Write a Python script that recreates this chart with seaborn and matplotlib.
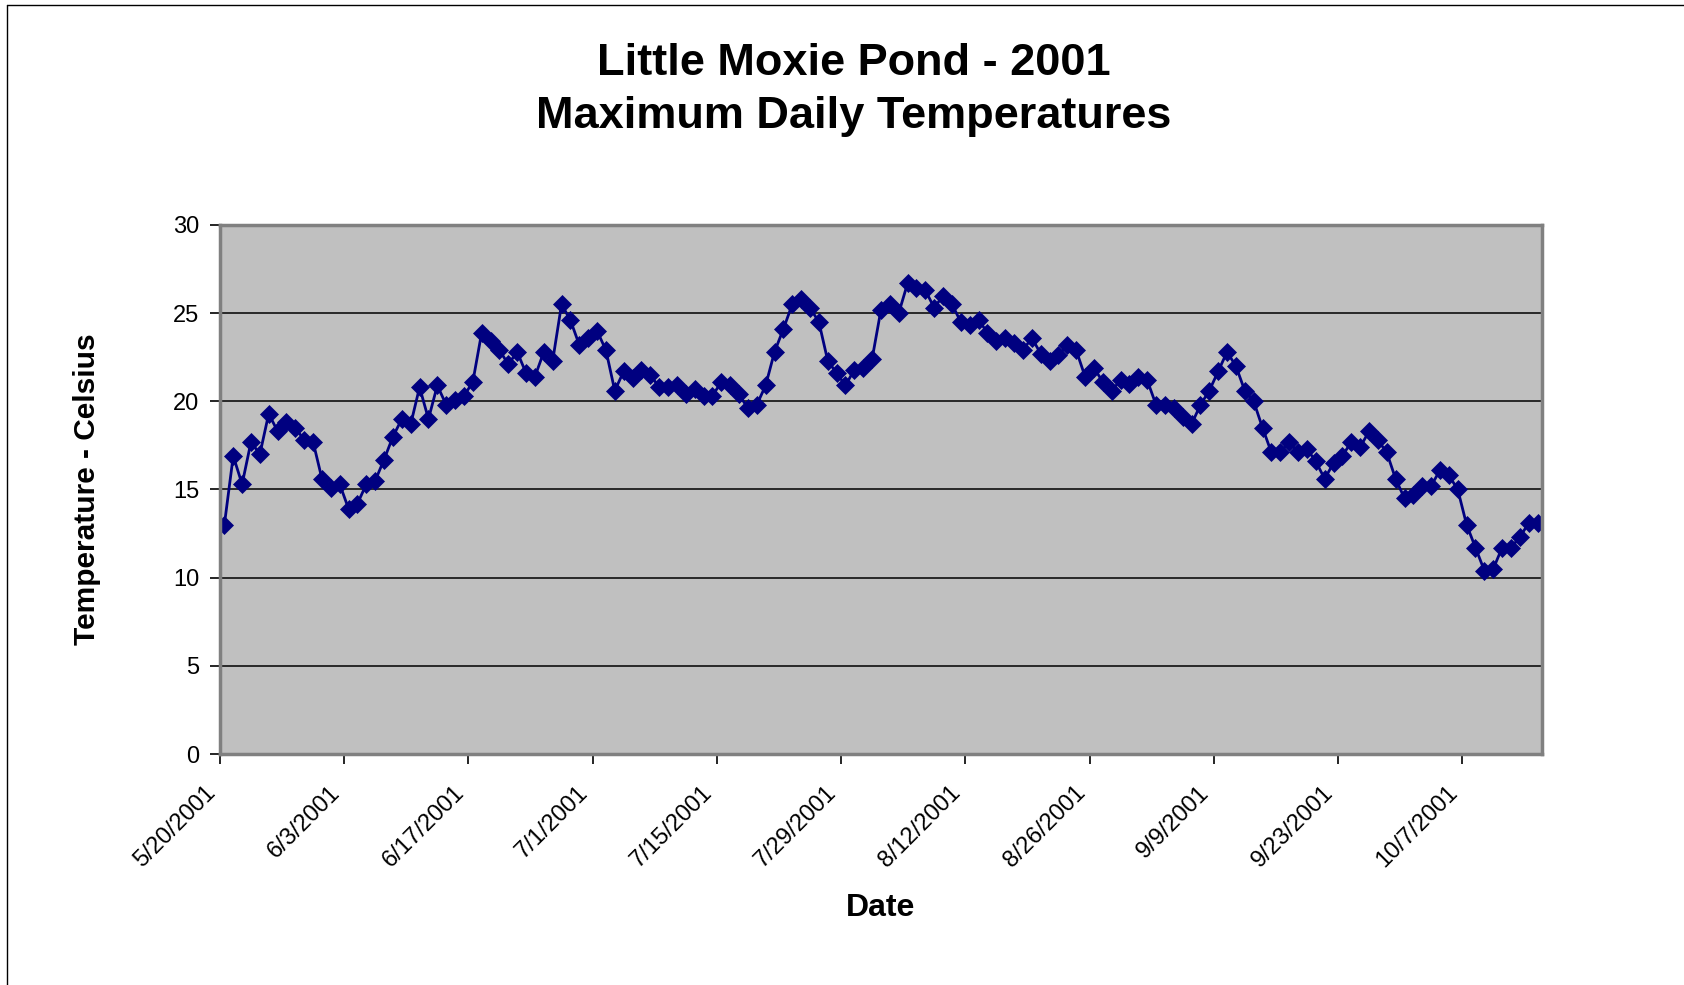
import numpy as np
import matplotlib
matplotlib.use('Agg')
import matplotlib.pyplot as plt
import matplotlib.lines as mlines
import pandas as pd
import seaborn as sns

# Daily maximum temperatures, one per day starting 5/20/2001
start_date = '2001-05-20'
temps = [
    13.0, 16.9, 15.3, 17.7, 17.0, 19.3, 18.3, 18.8, 18.5, 17.8,
    17.7, 15.6, 15.1, 15.3, 13.9, 14.2, 15.3, 15.5, 16.7, 18.0,
    19.0, 18.7, 20.8, 19.0, 20.9, 19.8, 20.1, 20.3, 21.1, 23.9,
    23.4, 22.9, 22.1, 22.8, 21.6, 21.4, 22.8, 22.3, 25.5, 24.6,
    23.2, 23.6, 24.0, 22.9, 20.6, 21.7, 21.3, 21.8, 21.5, 20.8,
    20.8, 20.9, 20.4, 20.7, 20.3, 20.3, 21.1, 20.9, 20.4, 19.6,
    19.8, 20.9, 22.8, 24.1, 25.5, 25.8, 25.3, 24.5, 22.3, 21.6,
    20.9, 21.8, 21.9, 22.4, 25.2, 25.5, 25.0, 26.7, 26.4, 26.3,
    25.3, 26.0, 25.5, 24.5, 24.3, 24.6, 23.9, 23.4, 23.6, 23.3,
    22.9, 23.6, 22.7, 22.3, 22.6, 23.2, 22.9, 21.4, 21.9, 21.1,
    20.6, 21.2, 21.0, 21.4, 21.2, 19.8, 19.8, 19.6, 19.1, 18.7,
    19.8, 20.6, 21.7, 22.8, 22.0, 20.6, 20.0, 18.5, 17.1, 17.1,
    17.7, 17.1, 17.3, 16.6, 15.6, 16.5, 16.9, 17.7, 17.4, 18.3,
    17.8, 17.1, 15.6, 14.5, 14.7, 15.2, 15.2, 16.1, 15.8, 15.0,
    13.0, 11.7, 10.4, 10.5, 11.7, 11.7, 12.3, 13.1, 13.1,
]
tick_labels = ['5/20/2001', '6/3/2001', '6/17/2001', '7/1/2001', '7/15/2001',
               '7/29/2001', '8/12/2001', '8/26/2001', '9/9/2001', '9/23/2001',
               '10/7/2001']
y_ticks = [0, 5, 10, 15, 20, 25, 30]

dates = pd.date_range(start_date, periods=len(temps), freq='D')
df = pd.DataFrame({'Date': dates, 'Temperature': temps})

sns.set_style('white')
plt.rcParams['font.family'] = ['Liberation Sans', 'DejaVu Sans']
plt.rcParams['text.color'] = 'black'
plt.rcParams['axes.labelcolor'] = 'black'
plt.rcParams['xtick.color'] = 'black'
plt.rcParams['ytick.color'] = 'black'

fig = plt.figure(figsize=(16.84, 9.85), dpi=100)
ax = fig.add_axes([0.1306, 0.2345, 0.7851, 0.5371])
ax.set_facecolor('#C0C0C0')

sns.lineplot(data=df, x='Date', y='Temperature', ax=ax, color='#000080',
             linewidth=2.0, marker='D', markersize=9.5,
             markeredgecolor='#000080', markeredgewidth=0.5)

# Excel puts date ticks on the slot boundaries, half a day before each point
half = pd.Timedelta(hours=12)
tick_pos = [pd.Timestamp(t) - half for t in
            pd.to_datetime(tick_labels, format='%m/%d/%Y')]
ax.set_xticks(tick_pos)
ax.set_xticklabels(tick_labels, rotation=45, ha='right', fontsize=17)
ax.set_xlim(dates[0] - half, dates[-1] + half)

ax.set_ylim(0, 30)
ax.set_yticks(y_ticks)
ax.set_yticklabels([str(v) for v in y_ticks], fontsize=17)
ax.yaxis.grid(True, color='black', linewidth=1.1)
ax.xaxis.grid(False)
ax.set_axisbelow(True)

for side in ['left', 'bottom', 'top', 'right']:
    ax.spines[side].set_color('#808080')
    ax.spines[side].set_linewidth(2.5)
ax.tick_params(axis='both', which='both', direction='out', length=7,
               width=1.2, color='black', left=True, bottom=True)
ax.tick_params(axis='x', pad=13)
ax.tick_params(axis='y', pad=8)

ax.set_xlabel('Date', fontsize=23, fontweight='bold', labelpad=15)
ax.set_ylabel('Temperature - Celsius', fontsize=21.5, fontweight='bold',
              labelpad=52)

fig.text(0.507, 0.956, 'Little Moxie Pond - 2001\nMaximum Daily Temperatures',
         ha='center', va='top', fontsize=32.5, fontweight='bold',
         linespacing=1.36)

# thin frame of the chart area
fig.add_artist(mlines.Line2D([0.004, 0.004], [0.0, 0.995], color='black',
                             linewidth=1.0))
fig.add_artist(mlines.Line2D([0.004, 1.0], [0.995, 0.995], color='black',
                             linewidth=1.0))

fig.savefig('out.png', dpi=100, facecolor='white')
